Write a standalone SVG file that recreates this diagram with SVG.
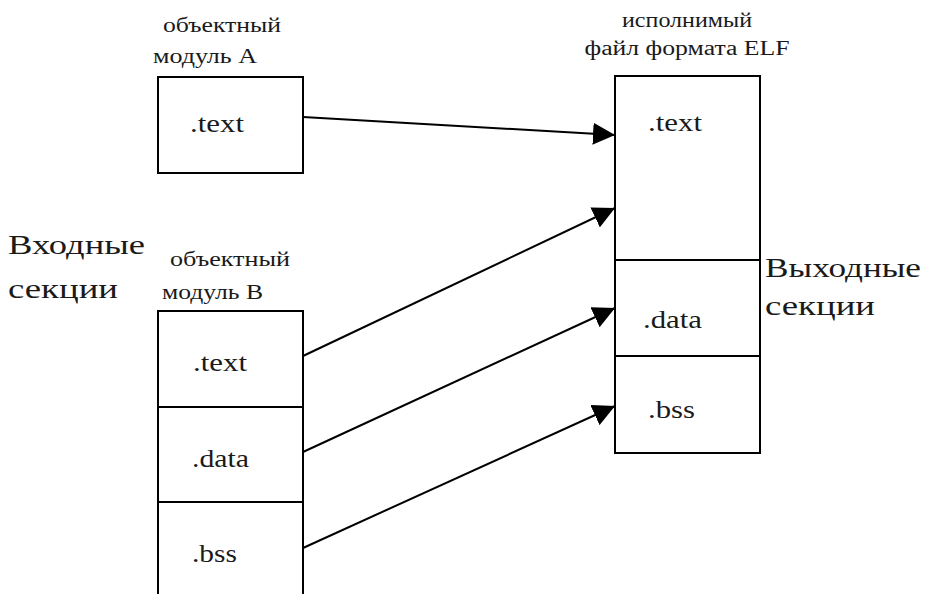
<svg xmlns="http://www.w3.org/2000/svg" width="925" height="594" viewBox="0 0 925 594">
<style>
.box{fill:#fff;stroke:#000;stroke-width:2}
.ln{fill:none;stroke:#000;stroke-width:2}
.sm{font-size:20px}
.sec{font-size:26px}
.big{font-size:28px}
.arr{fill:none;stroke:#000;stroke-width:2;marker-end:url(#ah)}
</style>
<defs>
<marker id="ah" markerUnits="userSpaceOnUse" markerWidth="22" markerHeight="22" viewBox="0 0 20 20" refX="20" refY="10" orient="auto">
<path d="M0,0 L20,10 L0,20 Z" fill="#000"/>
</marker>
</defs>
<rect width="925" height="594" fill="#fff"/>
<g font-family="Liberation Serif, Times New Roman, serif" fill="#1a1a1a">
<g id="label-input">
<text class="big" x="8" y="254" textLength="137" lengthAdjust="spacingAndGlyphs">Входные</text>
<text class="big" x="8" y="298" textLength="110" lengthAdjust="spacingAndGlyphs">секции</text>
</g>
<g id="label-output">
<text class="big" x="765" y="277" textLength="156" lengthAdjust="spacingAndGlyphs">Выходные</text>
<text class="big" x="765" y="315" textLength="110" lengthAdjust="spacingAndGlyphs">секции</text>
</g>
<g id="moduleA">
<text class="sm" x="163" y="32" textLength="118" lengthAdjust="spacingAndGlyphs">объектный</text>
<text class="sm" x="153" y="63" textLength="104" lengthAdjust="spacingAndGlyphs">модуль А</text>
<rect class="box" x="158" y="77" width="145" height="96"/>
<text class="sec" x="190" y="132" textLength="54" lengthAdjust="spacingAndGlyphs">.text</text>
</g>
<g id="moduleB">
<text class="sm" x="170" y="266" textLength="120" lengthAdjust="spacingAndGlyphs">объектный</text>
<text class="sm" x="162" y="299" textLength="101" lengthAdjust="spacingAndGlyphs">модуль В</text>
<path class="box" d="M158,594 L158,311 L303,311 L303,594"/>
<path class="ln" d="M158,407 H303 M158,502 H303"/>
<text class="sec" x="193" y="371" textLength="54" lengthAdjust="spacingAndGlyphs">.text</text>
<text class="sec" x="192" y="467" textLength="57" lengthAdjust="spacingAndGlyphs">.data</text>
<text class="sec" x="192" y="562" textLength="45" lengthAdjust="spacingAndGlyphs">.bss</text>
</g>
<g id="elf">
<text class="sm" x="687" y="27" text-anchor="middle" textLength="130" lengthAdjust="spacingAndGlyphs">исполнимый</text>
<text class="sm" x="687" y="55" text-anchor="middle" textLength="205" lengthAdjust="spacingAndGlyphs">файл формата ELF</text>
<rect class="box" x="615" y="76" width="145" height="377"/>
<path class="ln" d="M615,260 H760 M615,356 H760"/>
<text class="sec" x="648" y="131" textLength="54" lengthAdjust="spacingAndGlyphs">.text</text>
<text class="sec" x="643" y="328" textLength="59" lengthAdjust="spacingAndGlyphs">.data</text>
<text class="sec" x="648" y="418" textLength="47" lengthAdjust="spacingAndGlyphs">.bss</text>
</g>
</g>
<g id="connectors">
<line class="arr" x1="303" y1="117" x2="615" y2="135"/>
<line class="arr" x1="303" y1="356" x2="615" y2="208"/>
<line class="arr" x1="303" y1="452" x2="615" y2="308"/>
<line class="arr" x1="303" y1="548" x2="615" y2="406"/>
</g>
</svg>
